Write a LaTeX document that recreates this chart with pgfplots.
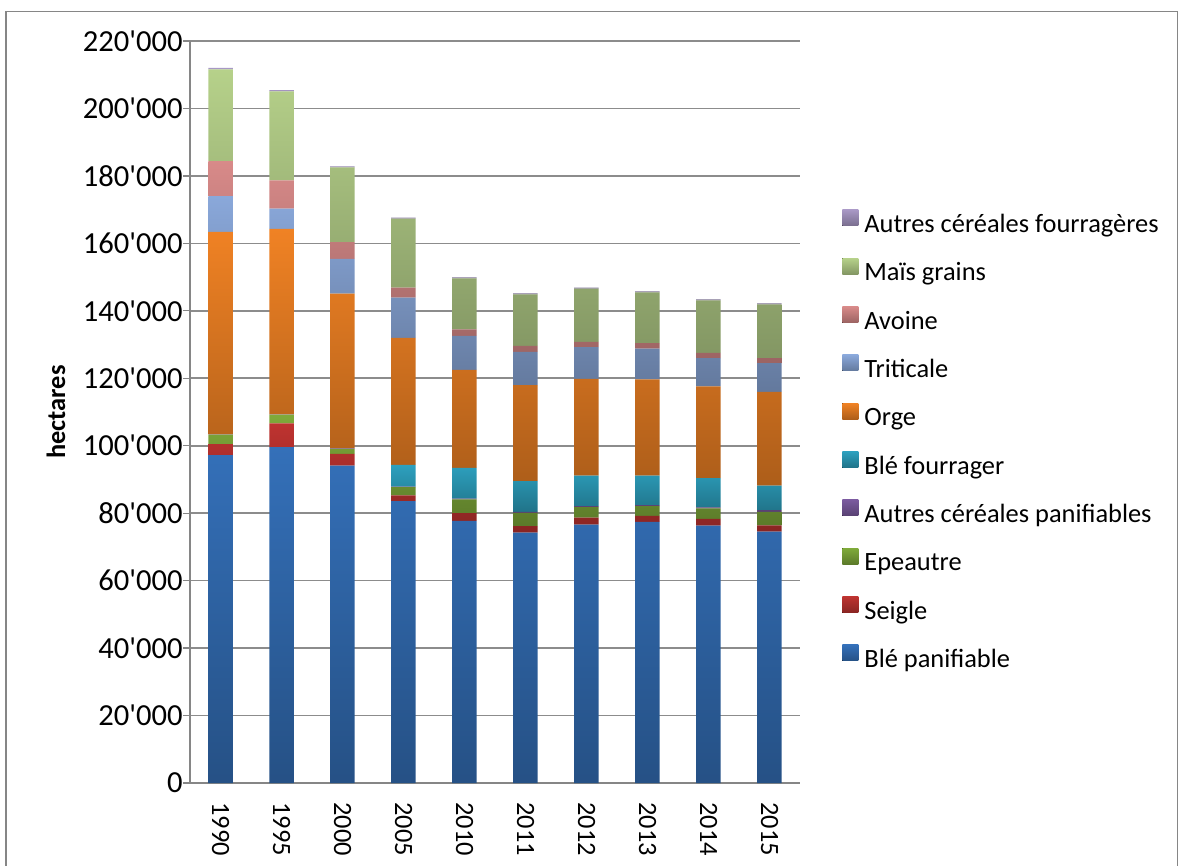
\documentclass[border=0pt]{standalone}
\usepackage{fontspec}
\setmainfont{Carlito}[Ligatures=TeXOff, Numbers={Lining,Monospaced}]
\usepackage{pgfplots}
\usepackage{pgfplotstable}
\pgfplotsset{compat=1.18}

\definecolor{cBle}{HTML}{3470B9}
\definecolor{cSeigle}{HTML}{BE3330}
\definecolor{cEpeautre}{HTML}{7FAA3A}
\definecolor{cAutPan}{HTML}{7A5A9E}
\definecolor{cBleF}{HTML}{2DA0BE}
\definecolor{cOrge}{HTML}{F08224}
\definecolor{cTrit}{HTML}{8AA8DA}
\definecolor{cAvoine}{HTML}{D88A89}
\definecolor{cMais}{HTML}{B6D18A}
\definecolor{cAutF}{HTML}{A898C5}
\definecolor{cGrid}{HTML}{8C8C8C}
\definecolor{cAxis}{HTML}{868686}

\pgfplotstableread{
x blepan seigle epeautre autpan blefour orge triticale avoine mais autfour
0 97200 3300 2800 100 0 60000 10600 10400 27200 400
1 99600 7000 2600 100 0 55000 6000 8400 26400 300
2 94100 3500 1500 100 0 45900 10300 5000 22100 300
3 83600 1700 2400 200 6400 37700 11900 3000 20400 300
4 77700 2300 4100 200 9100 29100 10100 1900 15100 300
5 74200 2000 3900 300 9100 28500 9800 1800 15300 300
6 76600 2100 3100 300 9000 28700 9400 1600 15800 300
7 77400 1800 2900 300 8700 28600 9100 1600 15100 300
8 76300 2000 3100 300 8700 27200 8400 1500 15600 300
9 74500 1900 4000 500 7300 27800 8500 1500 15900 300
}\datatable

\newcommand{\cfont}{\fontsize{13.2}{16}\selectfont}
\newcommand{\yfont}{\fontsize{15.3}{18}\selectfont}
\pgfplotsset{
  shbar/.style={draw=none, top color=#1, bottom color=#1!72!black},
}

\begin{document}
\cfont
\begin{tikzpicture}
\useasboundingbox (0,0) rectangle (589pt,-433pt);
\draw[color=cAxis, line width=0.6pt] (3pt,-5.8pt) rectangle (588.6pt,-440pt);
\begin{axis}[
  at={(95pt,-391.5pt)}, anchor=south west,
  scale only axis, width=305pt, height=371pt,
  font=\cfont,
  tick label style={font=\cfont},
  ybar stacked, bar width=12.25pt,
  xmin=-0.5, xmax=9.5, ymin=0, ymax=220000,
  xtick={0,...,9},
  xticklabels={1990,1995,2000,2005,2010,2011,2012,2013,2014,2015},
  xticklabel style={rotate=-90, anchor=west, inner sep=0pt, xshift=6pt},
  xtick style={draw=none},
  ytick={0,20000,40000,60000,80000,100000,120000,140000,160000,180000,200000,220000},
  yticklabels={0,{20'000},{40'000},{60'000},{80'000},{100'000},{120'000},{140'000},{160'000},{180'000},{200'000},{220'000}},
  scaled y ticks=false,
  yticklabel style={anchor=east, inner sep=0pt, font=\yfont},
  tick align=outside, major tick length=3.5pt,
  ytick style={draw=cAxis, line width=0.6pt},
  axis x line*=bottom, axis y line*=left,
  axis line style={draw=cAxis, line width=0.7pt, -},
  ymajorgrids, major grid style={draw=cGrid, line width=0.8pt},
  ylabel={\textbf{hectares}},
  ylabel style={at={(axis description cs:0,0.5)}, anchor=center, yshift=67pt, font=\cfont},
  reverse legend,
  legend cell align=left,
  legend style={at={(axis description cs:1.0689,0.7729)}, anchor=north west,
    draw=none, fill=none, inner sep=0pt, row sep=9.87pt,
    font=\cfont,
    nodes={inner sep=0pt, text height=9pt, text depth=3pt},
    /tikz/every odd column/.append style={column sep=3pt}},
  legend image code/.code={\fill[#1] (0pt,0.3pt) rectangle (8pt,8.3pt);},
]
\addplot[shbar=cBle] table[x=x, y=blepan] {\datatable};
\addlegendentry{Blé panifiable}
\addplot[shbar=cSeigle] table[x=x, y=seigle] {\datatable};
\addlegendentry{Seigle}
\addplot[shbar=cEpeautre] table[x=x, y=epeautre] {\datatable};
\addlegendentry{Epeautre}
\addplot[shbar=cAutPan] table[x=x, y=autpan] {\datatable};
\addlegendentry{Autres céréales panifiables}
\addplot[shbar=cBleF] table[x=x, y=blefour] {\datatable};
\addlegendentry{Blé fourrager}
\addplot[shbar=cOrge] table[x=x, y=orge] {\datatable};
\addlegendentry{Orge}
\addplot[shbar=cTrit] table[x=x, y=triticale] {\datatable};
\addlegendentry{Triticale}
\addplot[shbar=cAvoine] table[x=x, y=avoine] {\datatable};
\addlegendentry{Avoine}
\addplot[shbar=cMais] table[x=x, y=mais] {\datatable};
\addlegendentry{Maïs grains}
\addplot[shbar=cAutF] table[x=x, y=autfour] {\datatable};
\addlegendentry{Autres céréales fourragères}
\end{axis}
\end{tikzpicture}
\end{document}
